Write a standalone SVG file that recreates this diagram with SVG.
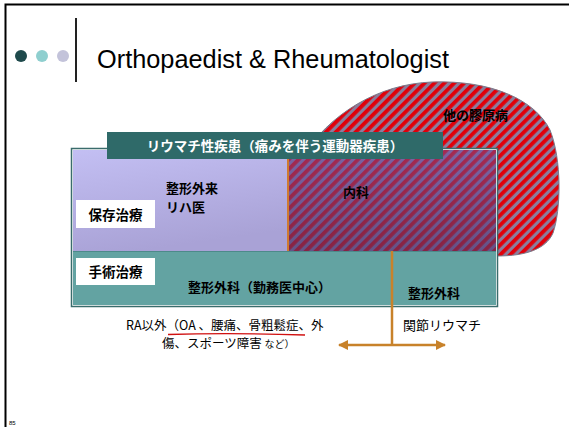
<svg xmlns="http://www.w3.org/2000/svg" width="569" height="427" viewBox="0 0 569 427">
<defs>
<style>
.jp{font-family:"Noto Sans CJK JP","Liberation Sans",sans-serif;font-weight:bold;fill:#000}
.jpn{font-family:"Noto Sans CJK JP","Liberation Sans",sans-serif;fill:#000}
.orange{stroke:#c8822a;stroke-width:2.5;fill:none}
</style>
<pattern id="hatch" patternUnits="userSpaceOnUse" width="7" height="7" patternTransform="rotate(45)">
<rect width="7" height="7" fill="#8a7d9c"/>
<rect width="3.8" height="7" fill="#e0000a"/>
</pattern>
<pattern id="hatch2" patternUnits="userSpaceOnUse" width="7" height="7" patternTransform="rotate(45)">
<rect width="7" height="7" fill="#7a64a4"/>
<rect width="3.8" height="7" fill="#a42a52"/>
</pattern>
<linearGradient id="lav" x1="0" y1="0" x2="0.3" y2="1">
<stop offset="0" stop-color="#c3bff3"/>
<stop offset="1" stop-color="#a9a2d6"/>
</linearGradient>
<linearGradient id="hdim" x1="0" y1="0" x2="0" y2="1">
<stop offset="0" stop-color="#000" stop-opacity="0"/>
<stop offset="1" stop-color="#000" stop-opacity="0.18"/>
</linearGradient>
<marker id="ah" viewBox="0 0 10 10" refX="9" refY="5" markerWidth="4" markerHeight="4" orient="auto-start-reverse">
<path d="M0,0 L10,5 L0,10 Z" fill="#c8822a"/>
</marker>
</defs>
<rect width="569" height="427" fill="#fff"/>
<!-- slide frame -->
<path d="M5.5,427 L5.5,4.5 L569,4.5" stroke="#000" stroke-width="2" fill="none"/>
<!-- title -->
<g id="title">
<circle cx="21" cy="56" r="6" fill="#1f4a4c"/>
<circle cx="42" cy="56" r="6" fill="#8fcfcf"/>
<circle cx="63" cy="56" r="6" fill="#c3c3da"/>
<line x1="76" y1="18" x2="76" y2="82" stroke="#222" stroke-width="2"/>
<text x="97" y="68" font-family="'Liberation Sans',Arial,sans-serif" font-size="25" textLength="352" lengthAdjust="spacingAndGlyphs" fill="#000">Orthopaedist &amp; Rheumatologist</text>
</g>
<!-- other collagen disease blob -->
<g id="collagen">
<path d="M300,160 C330,112 380,84 432,82 C492,80 535,100 550,130 C562,160 561,210 553,233 C546,249 526,256 497,256 L300,256 Z" fill="url(#hatch)" stroke="#7a7a8a" stroke-width="1"/>
<text class="jp" x="443" y="120" font-size="13">他の膠原病</text>
</g>
<!-- main frame -->
<g id="rheum">
<rect x="71.5" y="148.5" width="426" height="158" fill="#fff" stroke="#3a6c6c" stroke-width="1.5"/>
<rect x="73" y="150" width="215" height="101" fill="url(#lav)"/>
<rect x="288" y="150" width="208" height="101" fill="url(#hatch2)"/>
<rect x="288" y="150" width="208" height="101" fill="url(#hdim)"/>
<line x1="288" y1="150" x2="288" y2="251" stroke="#d07a30" stroke-width="2"/>
<rect x="73" y="251" width="423" height="54" fill="#63a3a2"/>
<line x1="73" y1="251.5" x2="496" y2="251.5" stroke="#4d8a8a" stroke-width="1"/>
</g>
<g id="header">
<rect x="107" y="132" width="336" height="27" fill="#2f6a69"/>
<text class="jp" x="275" y="151" font-size="13.5" fill="#fff" style="fill:#fff" text-anchor="middle">リウマチ性疾患（痛みを伴う運動器疾患）</text>
</g>
<g id="ortho-out">
<text class="jp" x="166" y="193" font-size="13">整形外来</text>
<text class="jp" x="166" y="212" font-size="13">リハ医</text>
</g>
<g id="naika">
<text class="jp" x="343" y="197" font-size="13">内科</text>
</g>
<g id="conservative">
<rect x="76" y="200" width="79" height="28" fill="#fff"/>
<text class="jp" x="115.5" y="220" font-size="13.5" text-anchor="middle">保存治療</text>
</g>
<g id="surgical">
<rect x="76" y="258" width="79" height="27" fill="#fff"/>
<text class="jp" x="115.5" y="277" font-size="13.5" text-anchor="middle">手術治療</text>
</g>
<g id="ortho-main">
<text class="jp" x="188" y="292" font-size="13">整形外科（勤務医中心）</text>
</g>
<g id="ortho-ra">
<text class="jp" x="408" y="298" font-size="13">整形外科</text>
</g>
<!-- connectors -->
<g id="connectors">
<line class="orange" x1="392" y1="251" x2="392" y2="345"/>
<line class="orange" x1="339" y1="345" x2="445" y2="345" marker-start="url(#ah)" marker-end="url(#ah)"/>
</g>
<g id="labels">
<text class="jpn" x="126" y="329.5" font-size="12.5">RA以外（OA 、腰痛、骨粗鬆症、外</text>
<text class="jpn" x="162" y="347.5" font-size="12.5">傷、スポーツ障害 <tspan font-size="10">など）</tspan></text>
<path d="M168,334.5 C200,333.5 260,333.5 305,335" stroke="#d01010" stroke-width="1.3" fill="none"/>
<text class="jpn" x="403" y="330" font-size="13">関節リウマチ</text>
</g>
<text x="9" y="425" font-family="'Liberation Sans',Arial,sans-serif" font-size="6" fill="#000">85</text>
</svg>
